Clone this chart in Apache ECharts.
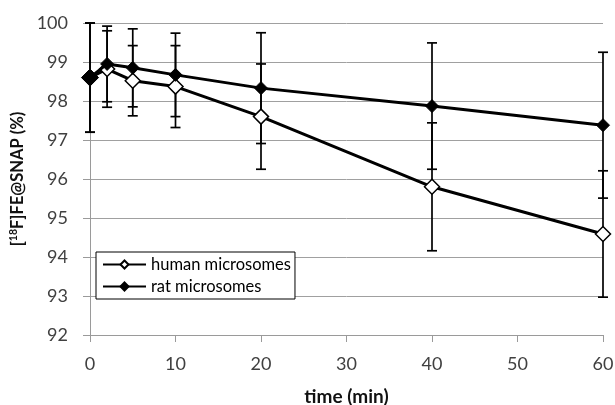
<!DOCTYPE html>
<html><head><meta charset="utf-8">
<script src="https://cdn.jsdelivr.net/npm/echarts@6/dist/echarts.min.js"></script>
<style>html,body{margin:0;padding:0;background:#fff}#c{width:615px;height:405px}</style>
</head><body><div id="c"></div>
<script>
const times = [0, 2, 5, 10, 20, 40, 60];
const human = [98.6, 98.82, 98.52, 98.37, 97.6, 95.8, 94.59];
const humanErr = [1.4, 0.98, 0.9, 1.05, 1.35, 1.64, 1.62];
const rat = [98.6, 98.95, 98.85, 98.67, 98.33, 97.87, 97.38];
const ratErr = [1.4, 0.97, 1.0, 1.07, 1.42, 1.62, 1.87];
const yTicks = [92, 93, 94, 95, 96, 97, 98, 99, 100];
const xTicks = [0, 10, 20, 30, 40, 50, 60];

const chart = echarts.init(document.getElementById('c'));
function errData(vals, errs) {
  return times.map((t, i) => [t, vals[i] - errs[i], vals[i] + errs[i]]);
}
function errRender(params, api) {
  const x = api.value(0);
  const lo = api.coord([x, api.value(1)]);
  const hi = api.coord([x, api.value(2)]);
  const w = 5;
  const st = { stroke: '#000', lineWidth: 1.7 };
  return { type: 'group', children: [
    { type: 'line', shape: { x1: lo[0], y1: lo[1], x2: hi[0], y2: hi[1] }, style: st },
    { type: 'line', shape: { x1: lo[0] - w, y1: lo[1], x2: lo[0] + w, y2: lo[1] }, style: st },
    { type: 'line', shape: { x1: hi[0] - w, y1: hi[1], x2: hi[0] + w, y2: hi[1] }, style: st }
  ]};
}
chart.setOption({
  animation: false,
  grid: { left: 90, right: 12, top: 23, bottom: 70, outerBoundsMode: 'none', containLabel: false },
  legend: {
    orient: 'vertical', left: 96, top: 252,
    data: ['human microsomes', 'rat microsomes'],
    borderColor: '#000', borderWidth: 1, backgroundColor: '#fff',
    padding: [4, 4, 4, 6], itemGap: 5, itemWidth: 43, itemHeight: 10,
    textStyle: { fontFamily: 'Lato', fontSize: 16.5, color: '#000' }
  },
  xAxis: {
    type: 'value', min: 0, max: 60, interval: 10,
    name: 'time (min)', nameLocation: 'middle', nameGap: 52,
    nameTextStyle: { fontFamily: 'Lato', fontWeight: 'bold', fontSize: 19, color: '#111' },
    axisLine: { lineStyle: { color: '#9a9a9a', width: 1 } },
    axisTick: { show: true, length: 7, lineStyle: { color: '#9a9a9a' } },
    axisLabel: { fontFamily: 'Lato', fontSize: 18, color: '#404040', margin: 20,
      formatter: v => xTicks.includes(v) ? String(v) : '' },
    splitLine: { show: false }
  },
  yAxis: {
    type: 'value', min: 92, max: 100, interval: 1,
    name: '{b|[}{s|18}{b|F]FE@SNAP (%)}', nameLocation: 'middle', nameGap: 62, nameRotate: 90,
    nameTextStyle: { fontFamily: 'Lato', fontWeight: 'bold', fontSize: 16, color: '#111',
      rich: {
        b: { fontFamily: 'Lato', fontWeight: 'bold', fontSize: 16.5, color: '#111' },
        s: { fontFamily: 'Lato', fontWeight: 'bold', fontSize: 10.5, color: '#111', verticalAlign: 'top', padding: [0, 0, 8, 0] }
      } },
    axisLine: { show: true, lineStyle: { color: '#9a9a9a', width: 1 } },
    axisTick: { show: true, length: 7, lineStyle: { color: '#9a9a9a' } },
    axisLabel: { fontFamily: 'Lato', fontSize: 18, color: '#404040', margin: 22,
      formatter: v => yTicks.includes(v) ? String(v) : '' },
    splitLine: { show: true, lineStyle: { color: '#a0a0a0', width: 1 } }
  },
  series: [
    { name: 'humanErr', type: 'custom', renderItem: errRender, data: errData(human, humanErr), z: 1, silent: true },
    { name: 'ratErr', type: 'custom', renderItem: errRender, data: errData(rat, ratErr), z: 1, silent: true },
    { name: 'human microsomes', type: 'line', data: times.map((t, i) => [t, human[i]]), z: 3,
      symbol: 'diamond', symbolSize: 15, showAllSymbol: true,
      lineStyle: { color: '#000', width: 3 },
      itemStyle: { color: '#fff', borderColor: '#000', borderWidth: 1.5 } },
    { name: 'rat microsomes', type: 'line', z: 4,
      data: times.map((t, i) => i === 0 ? { value: [t, rat[i]], symbolSize: 17 } : [t, rat[i]]),
      symbol: 'diamond', symbolSize: 13, showAllSymbol: true,
      lineStyle: { color: '#000', width: 3 },
      itemStyle: { color: '#000', borderColor: '#000', borderWidth: 1 } }
  ]
});
</script></body></html>
